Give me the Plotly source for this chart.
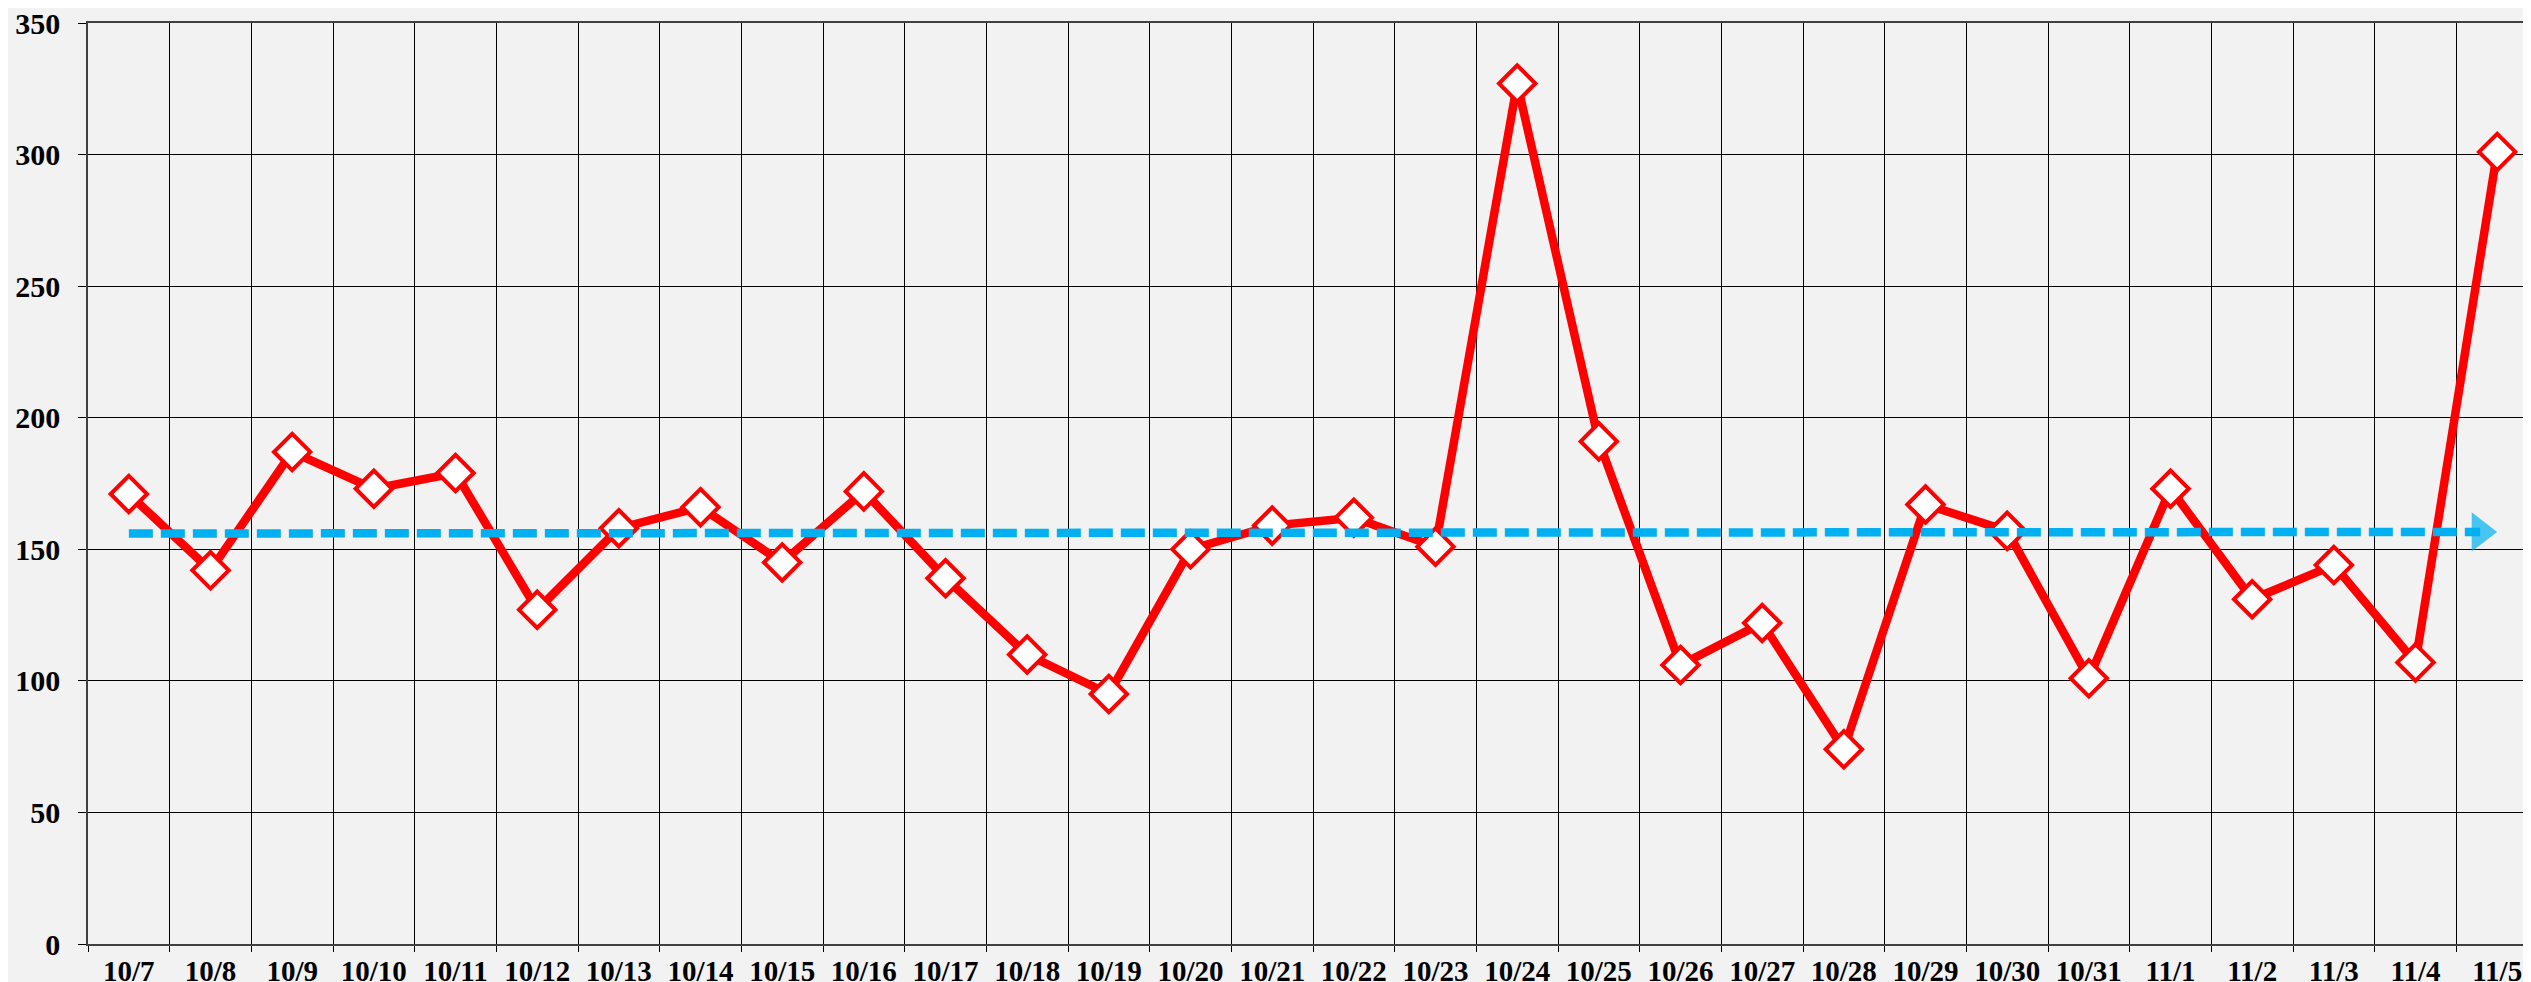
import plotly.graph_objects as go

dates = ["10/7", "10/8", "10/9", "10/10", "10/11", "10/12", "10/13", "10/14", "10/15", "10/16",
         "10/17", "10/18", "10/19", "10/20", "10/21", "10/22", "10/23", "10/24", "10/25", "10/26",
         "10/27", "10/28", "10/29", "10/30", "10/31", "11/1", "11/2", "11/3", "11/4", "11/5"]
counts = [171, 142, 187, 173, 179, 127, 158, 166, 145, 172,
          139, 110, 95, 150, 159, 162, 151, 327, 191, 106,
          122, 74, 167, 157, 101, 173, 131, 144, 107, 301]
trend_x = ["10/7", "11/5"]
trend_y = [156.0, 156.6]

BG = "#f2f2f2"
SERIF = "Liberation Serif, Times New Roman, serif"

fig = go.Figure()

fig.add_trace(go.Scatter(
    x=dates, y=counts, mode="lines+markers",
    line=dict(color="#ff0000", width=8.5),
    marker=dict(symbol="diamond", size=28, color="white",
                line=dict(color="#ff0000", width=4)),
    showlegend=False,
))

# trend arrow: dot at the start, wide triangle head with its tip on the last point
fig.add_trace(go.Scatter(
    x=trend_x, y=trend_y, mode="lines+markers",
    line=dict(color="#00b0f0", width=8.5, dash="24px,8px"),
    marker=dict(symbol=["circle", "triangle-up"], size=[25, 34], color="#00b0f0",
                angleref="previous", standoff=[0, 17], line=dict(width=0)),
    hoverinfo="skip", showlegend=False,
))

fig.update_layout(
    width=2531, height=982,
    margin=dict(l=80, r=1, t=15, b=46),
    paper_bgcolor=BG, plot_bgcolor=BG,
    font=dict(family=SERIF, size=28, color="black"),
)
fig.update_xaxes(
    type="category", categoryorder="array", categoryarray=dates,
    range=[-0.5, len(dates) - 0.5], tickson="boundaries",
    showgrid=True, gridcolor="black", gridwidth=1,
    showline=True, linecolor="#404040", linewidth=1.5, mirror=True,
    ticks="outside", ticklen=6, tickcolor="black",
    tickfont=dict(family=SERIF, size=29, color="black", weight="bold"),
    ticklabelstandoff=0, ticklabeloverflow="allow", automargin=False,
)
fig.update_yaxes(
    range=[0, 350], dtick=50, tick0=0,
    showgrid=True, gridcolor="black", gridwidth=1.2,
    zeroline=True, zerolinecolor="black", zerolinewidth=1.5,
    showline=True, linecolor="#404040", linewidth=1.5, mirror=True,
    ticks="outside", ticklen=8, tickcolor="black",
    tickfont=dict(family=SERIF, size=30, color="black", weight="bold"),
    ticklabelstandoff=12, ticklabeloverflow="allow", automargin=False,
)

fig.write_html("out.html")
